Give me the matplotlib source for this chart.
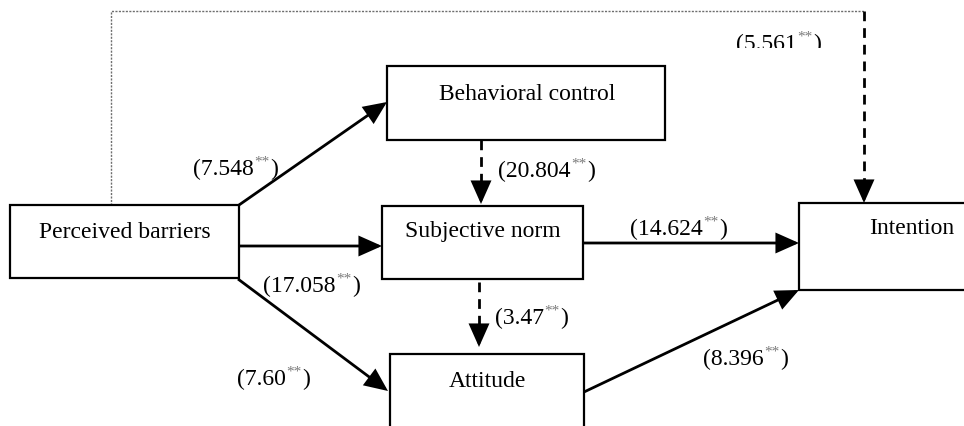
import matplotlib
matplotlib.use("Agg")
import matplotlib.pyplot as plt
from matplotlib.patches import Rectangle, FancyArrowPatch, ArrowStyle

# ---- data ----
node_names = ["Perceived barriers", "Behavioral control", "Subjective norm", "Attitude", "Intention"]
path_from = ["Perceived barriers", "Perceived barriers", "Perceived barriers", "Perceived barriers",
             "Behavioral control", "Subjective norm", "Subjective norm", "Attitude"]
path_to = ["Intention", "Behavioral control", "Subjective norm", "Attitude",
           "Subjective norm", "Attitude", "Intention", "Intention"]
coefficients = ["5.561", "7.548", "17.058", "7.60", "20.804", "3.47", "14.624", "8.396"]
significance = ["**", "**", "**", "**", "**", "**", "**", "**"]

# ---- layout (pixel coordinates, y down) ----
boxes = {
    "Perceived barriers": (10, 206, 239, 279),
    "Behavioral control": (387, 67, 665, 141),
    "Subjective norm": (382, 207, 583, 280),
    "Attitude": (390, 355, 584, 445),
    "Intention": (799, 204, 990, 291),
}
text_pos = {
    "Perceived barriers": (125, 233),
    "Behavioral control": (527, 94),
    "Subjective norm": (483, 232),
    "Attitude": (487, 382),
    "Intention": (912, 229),
}
paths = [
    ([(111, 206), (111, 12), (864, 12)], "dotted_then", [(864, 12), (864, 204)]),
    ([(239, 206), (387, 103)], "solid", None),
    ([(239, 247), (382, 247)], "solid", None),
    ([(238, 280), (388, 392)], "solid", None),
    ([(481, 141), (481, 205)], "dashed", None),
    ([(479, 283), (479, 348)], "dashed", None),
    ([(583, 244), (799, 244)], "solid", None),
    ([(584, 393), (799, 291)], "solid", None),
]
label_pos = [(736, 44), (193, 169), (263, 286), (237, 379), (498, 171), (495, 318), (630, 229), (703, 359)]

FONT = ["Liberation Serif", "DejaVu Serif"]
FS = 17
SUPFS = 11

fig = plt.figure(figsize=(9.64, 4.27), dpi=100)
ax = fig.add_axes([0, 0, 1, 1])
ax.set_xlim(0, 964)
ax.set_ylim(427, 0)
ax.axis("off")

BOX_LW = 1.6
ARR_LW = 2.0
head = ArrowStyle("-|>", head_length=1.35, head_width=0.6)


def arrow_head(p0, p1):
    ax.add_patch(FancyArrowPatch(p0, p1, arrowstyle=head, mutation_scale=10, color="black",
                                 lw=ARR_LW, shrinkA=0, shrinkB=0, zorder=4,
                                 joinstyle="miter", capstyle="butt"))


def dashed_line(p0, p1):
    ax.plot([p0[0], p1[0]], [p0[1], p1[1]], color="black", lw=ARR_LW,
            dashes=(3.5, 2.5), solid_capstyle="butt", dash_capstyle="butt", zorder=3)


for pts, style, extra in paths:
    if style == "solid":
        arrow_head(pts[0], pts[-1])
    elif style == "dashed":
        (x0, y0), (x1, y1) = pts
        dashed_line((x0, y0), (x1, y1 - 16))
        arrow_head((x1, y1 - 18), (x1, y1))
    elif style == "dotted_then":
        xs = [p[0] for p in pts]
        ys = [p[1] for p in pts]
        ax.plot(xs, ys, color="#6e6e6e", lw=1.0, linestyle=(0, (1.5, 1.0)), zorder=2)
        (x0, y0), (x1, y1) = extra
        dashed_line((x0, y0), (x1, y1 - 16))
        arrow_head((x1, y1 - 18), (x1, y1))

for name in node_names:
    x0, y0, x1, y1 = boxes[name]
    ax.add_patch(Rectangle((x0, y0), x1 - x0, y1 - y0, fill=True, facecolor="white",
                           edgecolor="black", lw=BOX_LW, zorder=5))
    tx, ty = text_pos[name]
    ax.text(tx, ty, name, ha="center", va="center", fontsize=FS, family=FONT, zorder=6)

fig.canvas.draw()
renderer = fig.canvas.get_renderer()
inv = ax.transData.inverted()

clip_rect = Rectangle((0, -100), 964, 149, transform=ax.transData, visible=False)
ax.add_patch(clip_rect)

for i, (coef, sig) in enumerate(zip(coefficients, significance)):
    lx, ly = label_pos[i]
    pieces = []
    t1 = ax.text(lx, ly, "(" + coef, ha="left", va="center", fontsize=FS, family=FONT, zorder=6)
    pieces.append(t1)
    bb = t1.get_window_extent(renderer)
    xr = inv.transform((bb.x1, bb.y0))[0]
    t2 = ax.text(xr + 0.5, ly - 7, sig, ha="left", va="center", fontsize=SUPFS, family=FONT,
                 color="#7a7a7a", zorder=6)
    pieces.append(t2)
    bb2 = t2.get_window_extent(renderer)
    xr2 = inv.transform((bb2.x1, bb2.y0))[0]
    t3 = ax.text(xr2 + 0.5, ly, ")", ha="left", va="center", fontsize=FS, family=FONT, zorder=6)
    pieces.append(t3)
    if i == 0:
        for t in pieces:
            t.set_clip_path(clip_rect)
            t.set_clip_on(True)

fig.savefig("out.png", dpi=100)
